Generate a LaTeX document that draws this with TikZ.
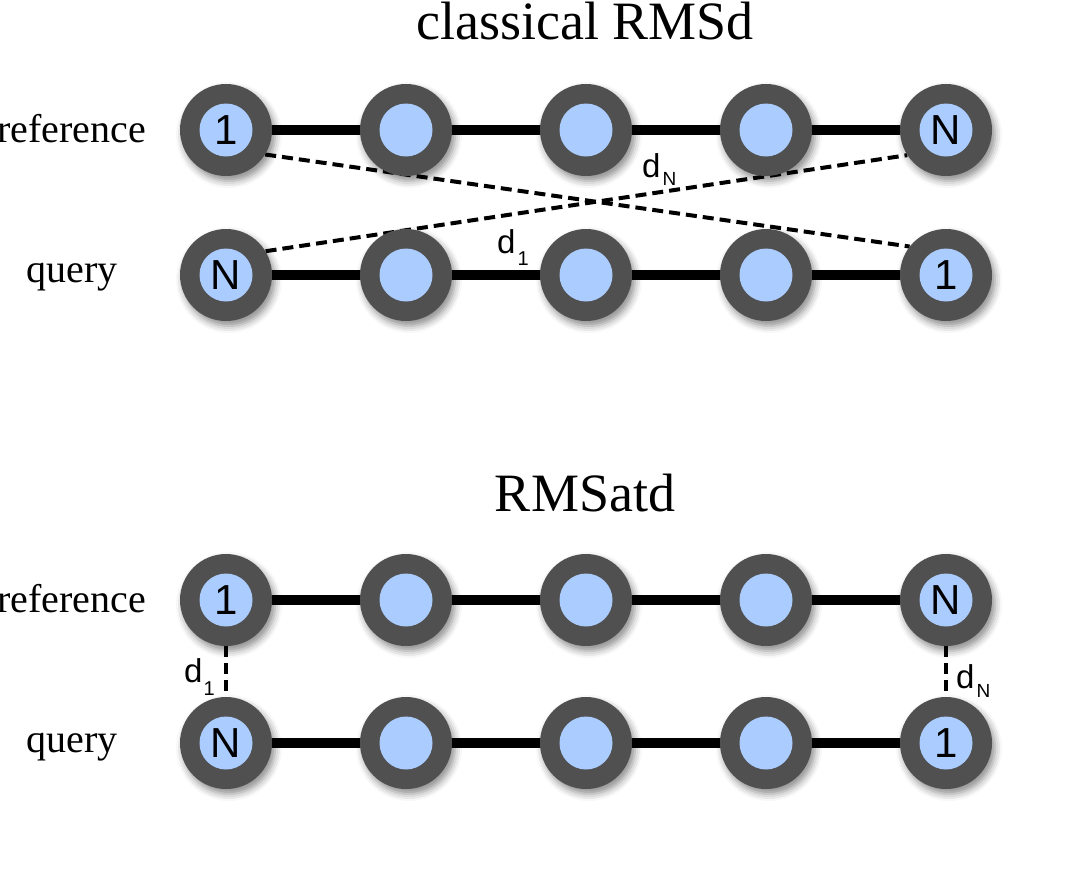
\documentclass[tikz,border=0pt]{standalone}
\usepackage{fontspec}
\setmainfont{Liberation Serif}
\newfontfamily\arialf{Liberation Sans}
\usetikzlibrary{shadows.blur,backgrounds}
\definecolor{ringgray}{RGB}{80,80,80}
\definecolor{coreblue}{RGB}{170,204,255}
\begin{document}
\begin{tikzpicture}[x=1pt,y=-1pt,
 ring/.style={circle, fill=ringgray, minimum size=92pt, inner sep=0pt,
   blur shadow={shadow xshift=3pt, shadow yshift=-5pt, shadow blur radius=7pt, shadow opacity=45}},
 core/.style={circle, fill=coreblue, minimum size=53pt, inner sep=0pt, font=\arialf\fontsize{42}{42}\selectfont},
 bond/.style={line width=10pt, black},
 dist/.style={line width=4pt, dash pattern=on 11pt off 6pt},
 rowlabel/.style={font=\fontsize{40}{40}\selectfont, inner sep=0pt},
 titlelabel/.style={font=\fontsize{54}{54}\selectfont, inner sep=0pt},
 dlabel/.style={font=\arialf\fontsize{33}{33}\selectfont, inner sep=0pt}]
\useasboundingbox (0,0) rectangle (1078,873);

% titles and row labels
\node[titlelabel, anchor=base] (t1) at (585,39) {classical RMSd};
\node[titlelabel, anchor=base] (t2) at (585,511) {RMSatd};
\node[rowlabel, anchor=base east] (l1) at (146,142) {reference};
\node[rowlabel, anchor=base] (l2) at (72,282) {query};
\node[rowlabel, anchor=base east] (l3) at (146,612) {reference};
\node[rowlabel, anchor=base] (l4) at (72,752) {query};

% atoms
\foreach \r/\y in {a/130,b/275,c/600,e/743}{
  \foreach \i/\x in {1/226,2/406,3/586,4/766,5/946}{
    \node[ring] (\r\i) at (\x,\y) {};
  }
}
\foreach \r/\lo/\hi in {a/1/N,b/N/1,c/1/N,e/N/1}{
  \node[core] (\r1i) at (\r1) {\lo};
  \node[core] (\r2i) at (\r2) {};
  \node[core] (\r3i) at (\r3) {};
  \node[core] (\r4i) at (\r4) {};
  \node[core] (\r5i) at (\r5) {\hi};
}

\begin{scope}[on background layer]
  \draw[bond] (a1) -- (a5);
  \draw[bond] (b1) -- (b5);
  \draw[bond] (c1) -- (c5);
  \draw[bond] (e1) -- (e5);
  \draw[dist] (a1.-32.6) -- (b5.142);
  \draw[dist] (b1.31.5) -- (a5.213);
  \draw[dist] (c1.south) -- (e1.north);
  \draw[dist] (c5.south) -- (e5.north);
\end{scope}

% distance labels
\node[dlabel, anchor=base west] (dn1) at (642,177) {d\kern2pt\raisebox{-8pt}{\fontsize{19}{19}\selectfont N}};
\node[dlabel, anchor=base west] (d11) at (497,253) {d\kern2pt\raisebox{-12pt}{\fontsize{20}{20}\selectfont 1}};
\node[dlabel, anchor=base west] (d12) at (184,682) {d\kern1pt\raisebox{-13pt}{\fontsize{20}{20}\selectfont 1}};
\node[dlabel, anchor=base west] (dn2) at (956,688) {d\kern2pt\raisebox{-9pt}{\fontsize{19}{19}\selectfont N}};
\end{tikzpicture}
\end{document}
